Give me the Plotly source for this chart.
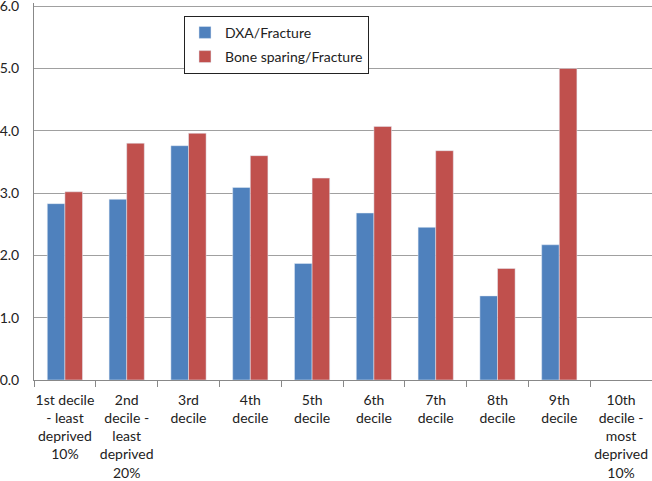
import plotly.graph_objects as go

categories = [
    "1st decile<br>- least<br>deprived<br>10%",
    "2nd<br>decile -<br>least<br>deprived<br>20%",
    "3rd<br>decile",
    "4th<br>decile",
    "5th<br>decile",
    "6th<br>decile",
    "7th<br>decile",
    "8th<br>decile",
    "9th<br>decile",
    "10th<br>decile -<br>most<br>deprived<br>10%",
]
dxa_fracture = [2.83, 2.90, 3.76, 3.09, 1.87, 2.68, 2.45, 1.35, 2.17, None]
bone_sparing_fracture = [3.02, 3.80, 3.96, 3.60, 3.24, 4.07, 3.68, 1.79, 5.00, None]
y_ticks = [0, 1, 2, 3, 4, 5, 6]
y_tick_labels = ["0.0", "1.0", "2.0", "3.0", "4.0", "5.0", "6.0"]

FONT = "Lato"

fig = go.Figure()
fig.add_trace(go.Bar(x=categories, y=dxa_fracture, name="DXA/Fracture",
                     marker_color="#4F81BD", legendgroup="a"))
fig.add_trace(go.Bar(x=categories, y=bone_sparing_fracture, name="Bone sparing/Fracture",
                     marker_color="#C0504D", legendgroup="b"))

fig.update_layout(
    width=652, height=481,
    margin=dict(l=34, r=0, t=3, b=101, autoexpand=False),
    paper_bgcolor="white", plot_bgcolor="white",
    font=dict(family=FONT, size=14, color="#222222"),
    barmode="group", bargap=0.43, bargroupgap=0,
    showlegend=True,
    legend=dict(x=0.2427, y=0.966, xanchor="left", yanchor="top",
                bordercolor="#222222", borderwidth=1, bgcolor="white",
                font=dict(family=FONT, size=14, color="#222222"),
                tracegroupgap=3, itemwidth=30),
)
fig.update_xaxes(
    automargin=False,
    showline=True, linecolor="#888888", linewidth=1,
    ticks="outside", tickson="boundaries", ticklen=6, tickcolor="#888888",
    showgrid=False, tickangle=0, ticklabelstandoff=7,
    tickfont=dict(family=FONT, size=14, color="#222222"),
)
fig.update_yaxes(
    automargin=False,
    range=[0, 6.05], tickvals=y_ticks, ticktext=y_tick_labels,
    showline=True, linecolor="#888888", linewidth=1,
    showgrid=True, gridcolor="#A0A0A0", gridwidth=1,
    ticks="", ticklabelstandoff=11, ticklabeloverflow="allow",
    tickfont=dict(family=FONT, size=14, color="#222222"),
    zeroline=False,
)

fig.write_html(
    "out.html",
    config={"displayModeBar": False},
    post_script="document.body.style.margin='0';document.body.style.overflow='hidden';",
)
